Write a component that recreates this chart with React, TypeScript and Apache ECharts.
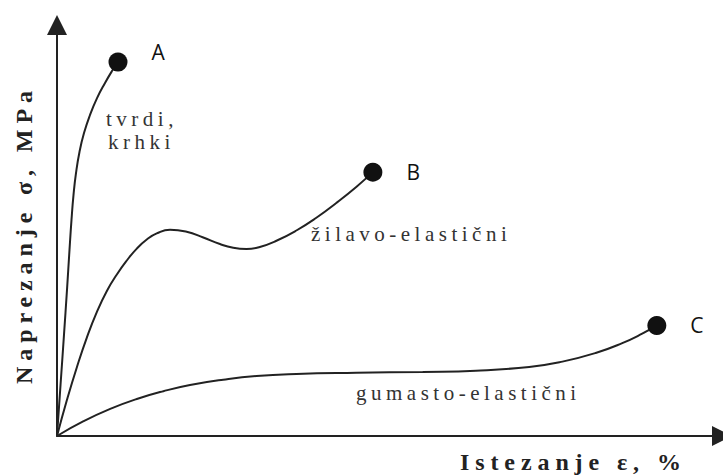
import React, { useEffect, useRef } from 'react';
import * as echarts from 'echarts';

// Schematic stress–strain curves (x: strain units 0–100, y: stress units 0–100)
const curveNames = ['A', 'B', 'C'];

const curveA: [number, number][] = [
  [0, 0], [0.53, 12.4], [1.05, 24.6], [1.5, 35.5], [1.88, 45.3], [2.18, 52.6],
  [2.48, 58.6], [2.86, 64.0], [3.38, 69.1], [4.06, 73.7], [4.96, 78.1],
  [6.02, 82.2], [7.22, 85.9], [8.27, 88.8], [9.17, 91.0],
];

const curveB: [number, number][] = [
  [0, 0], [1.5, 8.8], [3, 16.8], [4.5, 24.0], [6, 30.2], [7.5, 35.3], [9, 39.3],
  [10.5, 42.7], [12, 45.6], [13.5, 47.8], [15, 49.3], [17, 50.2], [19.5, 49.7],
  [22, 48.3], [24.5, 46.7], [26.5, 45.8], [28.5, 45.5], [30.5, 46.0], [33, 47.5],
  [36, 50.0], [39, 53.1], [42, 56.7], [45, 60.6], [47.5, 64.2],
];

const curveC: [number, number][] = [
  [0, 0], [4, 3.6], [8, 6.6], [12, 9.0], [16, 10.9], [20, 12.4], [25, 13.7],
  [30, 14.6], [36, 15.1], [45, 15.4], [55, 15.6], [63, 15.9], [71, 16.8],
  [76, 18.1], [81, 20.2], [85, 22.6], [88, 24.9], [90.2, 26.9],
];

const curveLabels = ['tvrdi,', 'krhki', 'žilavo-elastični', 'gumasto-elastični'];
const xAxisTitle = 'Istezanje ε, %';
const yAxisTitle = 'Naprezanje σ, MPa';

export default function App() {
  const ref = useRef<HTMLDivElement>(null);

  useEffect(() => {
    if (!ref.current) return;
    const chart = echarts.init(ref.current, null, { renderer: 'svg' });
    const curves = [curveA, curveB, curveC];
    const serif = "'Liberation Serif', 'Times New Roman', serif";
    const ink = '#222';
    const labelInk = '#333';

    const axisCommon = {
      type: 'value',
      min: 0,
      max: 100,
      axisLine: {
        show: true,
        symbol: ['none', 'triangle'],
        symbolSize: [20, 20],
        lineStyle: { color: ink, width: 2 },
      },
      axisTick: { show: false },
      axisLabel: { show: false },
      splitLine: { show: false },
    };

    const endPoints = curves.map((c, i) => ({
      value: c[c.length - 1],
      name: curveNames[i],
      label: i === 0 ? { offset: [0, -10] } : undefined,
    }));

    const labelStyle = (text: string) => ({
      text,
      fontSize: 21,
      fontFamily: serif,
      fill: labelInk,
      textAlign: 'left',
      textVerticalAlign: 'middle',
      verticalAlign: 'middle',
    });
    const titleStyle = (text: string) => ({
      text,
      fontSize: 24,
      fontWeight: 'bold',
      fontFamily: serif,
      fill: ink,
      textAlign: 'left',
      textVerticalAlign: 'middle',
      verticalAlign: 'middle',
    });

    chart.setOption({
      animation: false,
      backgroundColor: '#fff',
      grid: { left: 57, top: 25, right: 1, bottom: 39 },
      xAxis: axisCommon,
      yAxis: axisCommon,
      series: [
        ...curves.map((c) => ({
          type: 'line',
          data: c,
          smooth: 0.5,
          showSymbol: false,
          silent: true,
          lineStyle: { color: ink, width: 2 },
        })),
        {
          type: 'scatter',
          data: endPoints,
          symbolSize: 19,
          itemStyle: { color: '#111', opacity: 1 },
          silent: true,
          z: 5,
          label: {
            show: true,
            formatter: '{b}',
            position: 'right',
            distance: 24,
            fontSize: 21,
            fontFamily: "'Open Sans', sans-serif",
            color: '#111',
          },
        },
      ],
      graphic: [
        { type: 'text', x: 106, y: 119, style: labelStyle(curveLabels[0]) },
        { type: 'text', x: 108, y: 142, style: labelStyle(curveLabels[1]) },
        { type: 'text', x: 311, y: 234, style: labelStyle(curveLabels[2]) },
        { type: 'text', x: 356, y: 393, style: labelStyle(curveLabels[3]) },
        { type: 'text', x: 460, y: 462, style: titleStyle(xAxisTitle) },
        { type: 'text', x: 24, y: 384, rotation: Math.PI / 2, style: titleStyle(yAxisTitle) },
      ],
    });

    return () => chart.dispose();
  }, []);

  return (
    <>
      <style>{`
        .ss-chart text[style*="Serif"] { letter-spacing: 4.5px; }
        .ss-chart text[style*="bold"] { letter-spacing: 5.9px; }
      `}</style>
      <div
        ref={ref}
        className="ss-chart"
        style={{ position: 'fixed', left: 0, top: 0, width: 723, height: 475, background: '#fff' }}
      />
    </>
  );
}
